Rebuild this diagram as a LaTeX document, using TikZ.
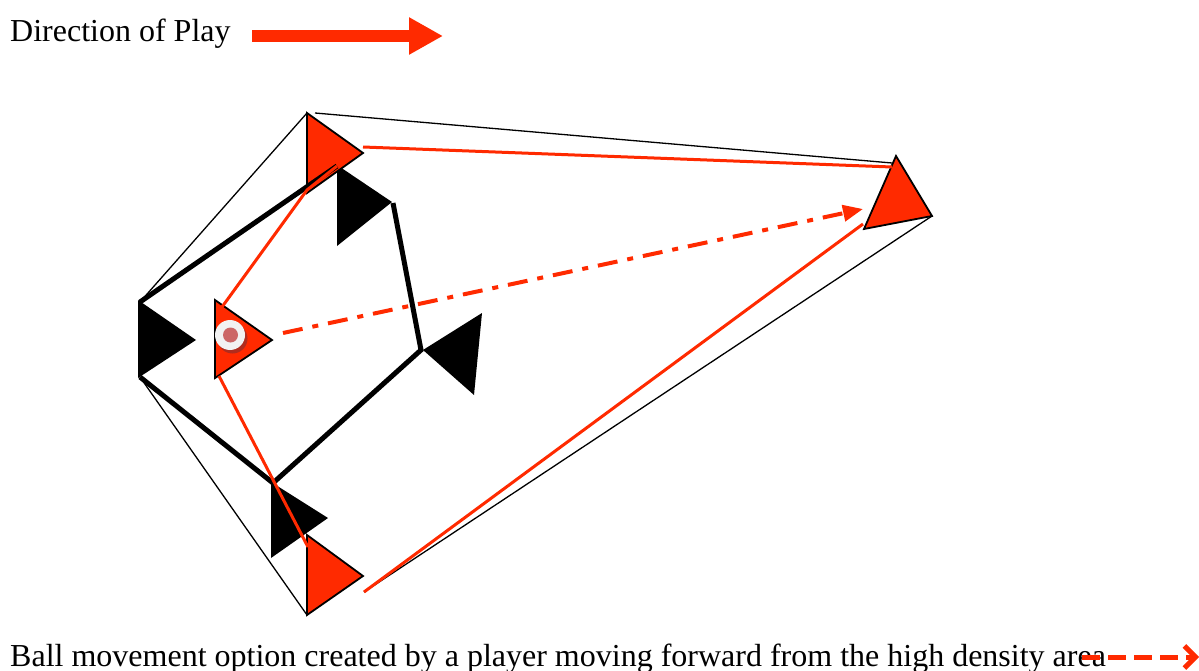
\documentclass[tikz,border=0pt]{standalone}
\usepackage{fontspec}
\setmainfont{Liberation Serif}
\usetikzlibrary{arrows.meta}

\definecolor{playred}{RGB}{255,42,0}
\definecolor{balldot}{RGB}{204,102,102}
\definecolor{ballrim}{RGB}{242,242,242}
\definecolor{ballshade}{RGB}{176,44,30}

\tikzset{
  redplayer/.style={fill=playred, draw=black, line width=1.8pt, line join=miter},
  blackplayer/.style={fill=black},
  shape line/.style={line width=5pt, line join=miter, line cap=butt},
  cover line/.style={line width=1.3pt},
  run line/.style={playred, line width=3pt},
  caption/.style={font=\fontsize{32}{38}\selectfont, inner sep=0pt},
}

\begin{document}
\begin{tikzpicture}[x=1pt, y=-1pt]
  \useasboundingbox (0,0) rectangle (1199,671);
  \clip (0,0) rectangle (1199,671);

  % player corners
  \coordinate (r1a) at (307,113); \coordinate (r1b) at (307,193); \coordinate (r1c) at (363,153);
  \coordinate (r2a) at (215,300); \coordinate (r2b) at (215,378); \coordinate (r2c) at (272,340);
  \coordinate (r3a) at (307,535); \coordinate (r3b) at (307,615); \coordinate (r3c) at (363,576);
  \coordinate (r4a) at (896,156); \coordinate (r4b) at (864,229); \coordinate (r4c) at (932,216);
  \coordinate (b1a) at (138,300); \coordinate (b1b) at (138,378); \coordinate (b1c) at (196,340);
  \coordinate (b2a) at (337,165); \coordinate (b2b) at (337,246); \coordinate (b2c) at (392,202);
  \coordinate (b3a) at (423,350); \coordinate (b3b) at (482,313); \coordinate (b3c) at (474,395);
  \coordinate (b4a) at (271,482); \coordinate (b4b) at (271,558); \coordinate (b4c) at (328,518);

  % line ends on the players
  \coordinate (b1top) at (140,302); \coordinate (b1bot) at (140,377);
  \coordinate (b2top) at (337,166); \coordinate (b2tip) at (393,203);
  \coordinate (b3tip) at (421,350); \coordinate (b4top) at (273,483);
  \coordinate (r1gap) at (315,113);
  \coordinate (r1out) at (363,147); \coordinate (r1low) at (307,190);
  \coordinate (r2top) at (222,307); \coordinate (r2bot) at (219,376);
  \coordinate (r3top) at (308,547); \coordinate (r3out) at (364,592);
  \coordinate (r4top) at (892,163); \coordinate (r4in) at (892,167);
  \coordinate (r4low) at (863,224); \coordinate (r4tip) at (863,209);
  \coordinate (passstart) at (283,333);

  % players
  \foreach \p in {b1,b2,b3,b4}
    \fill[blackplayer] (\p a) -- (\p b) -- (\p c) -- cycle;
  \foreach \p in {r1,r2,r3,r4}
    \draw[redplayer] (\p a) -- (\p b) -- (\p c) -- cycle;

  % outer cover
  \draw[cover line] (b1top) -- (r1a);
  \draw[cover line] (r1gap) -- (r4top);
  \draw[cover line] (b1bot) -- (r3b);
  \draw[cover line] (r3out) -- (r4c);

  % defending shape
  \draw[shape line] (b1top) -- (b2top);
  \draw[shape line] (b2tip) -- (b3tip) -- (b4top) -- (b1bot);

  % attacking runs
  \draw[run line] (r1out) -- (r4in);
  \draw[run line] (b2top) -- (r1low) -- (r2top);
  \draw[run line] (r2bot) -- (r3top);
  \draw[run line] (r3out) -- (r4low);

  % pass option
  \draw[playred, line width=4pt, dash pattern=on 20pt off 10pt on 6pt off 10pt,
        -{Triangle[length=20pt,width=16pt]}] (passstart) -- (r4tip);

  % ball
  \fill[ballshade] (232.5,338.5) circle (15);
  \fill[ballrim] (230,335) circle (15);
  \fill[balldot] (230.5,335) circle (7.5);

  % texts
  \node[caption, anchor=base west] (dirlabel) at (10,42) {Direction of Play};
  \coordinate (dirstart) at (252,36);
  \coordinate (dirend) at (443,36);
  \draw[playred, line width=12pt, -{Triangle[length=34pt,width=35pt]}] (dirstart) -- (dirend);

  \node[caption, anchor=base west] (movelabel) at (10,666)
    {Ball movement option created by a player moving forward from the high density area};
  \coordinate (movestart) at (1082,657);
  \coordinate (moveend) at (1199,657);
  \draw[playred, line width=5pt, dash pattern=on 18pt off 8pt,
        -{Straight Barb[length=11pt,width=22pt]}] (movestart) -- (moveend);
\end{tikzpicture}
\end{document}
